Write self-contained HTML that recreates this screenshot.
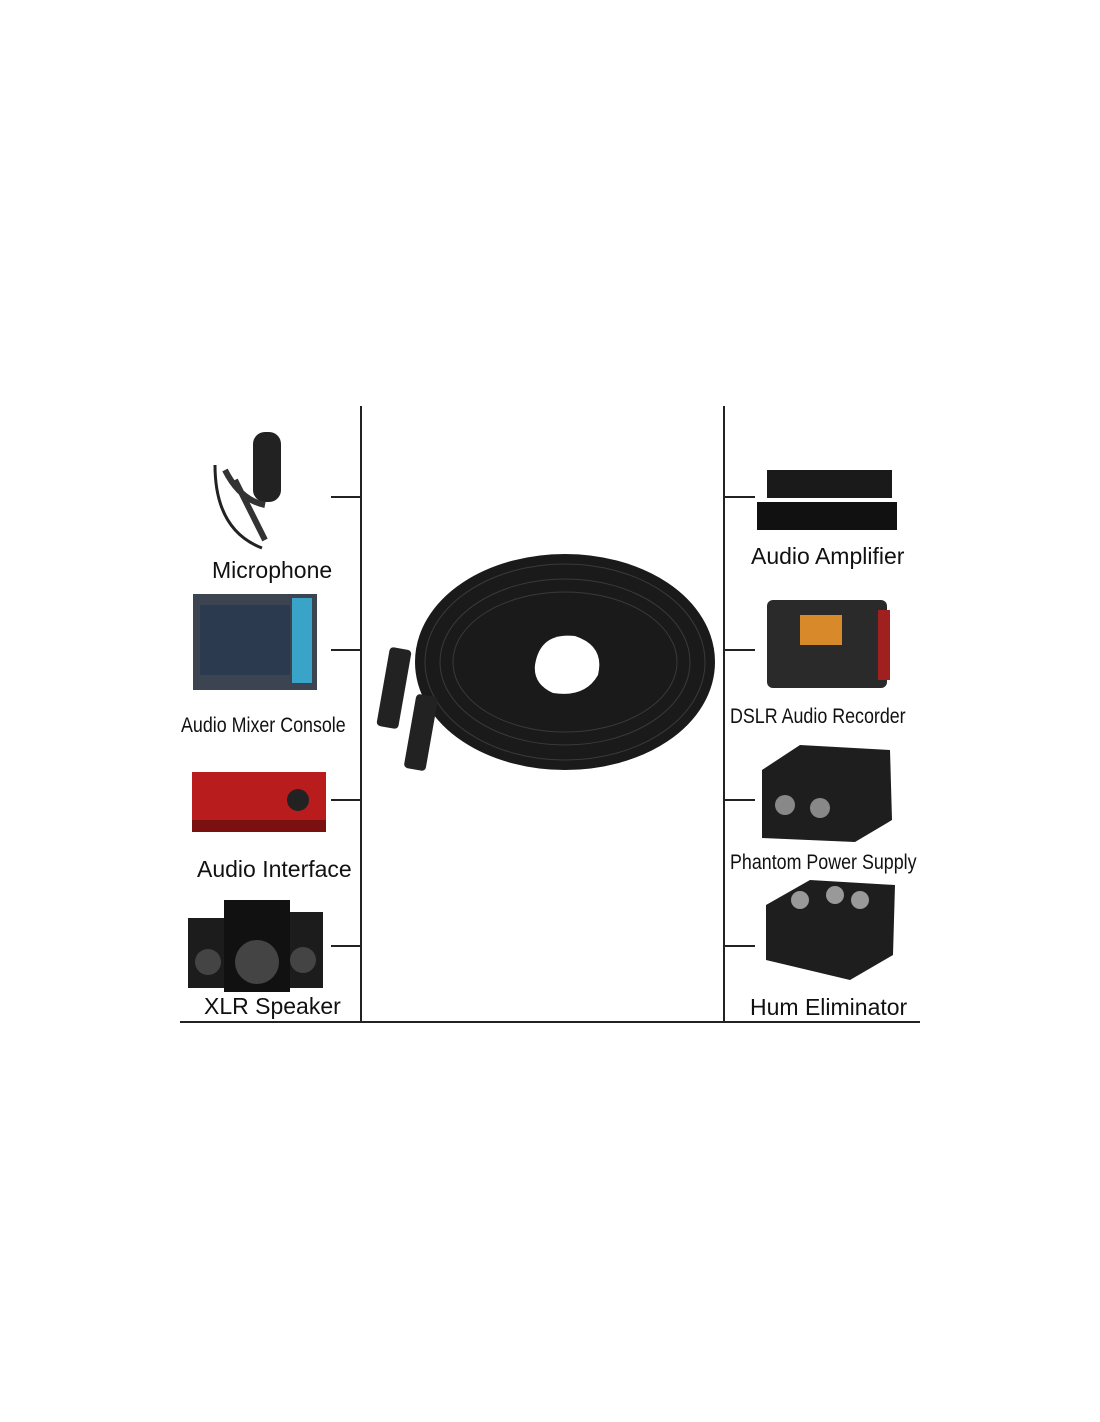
<!DOCTYPE html>
<html><head><meta charset="utf-8"><style>
html,body{margin:0;padding:0;background:#fff;}
body{width:1100px;height:1422px;position:relative;overflow:hidden;font-family:"Liberation Sans",sans-serif;}
.l{position:absolute;background:#222;}
.t{position:absolute;font-size:23px;color:#111;white-space:nowrap;}
.c{font-size:21px;transform:scaleX(0.85);transform-origin:left top;}
</style></head><body>
<div class="l" style="left:360px;top:406px;width:2px;height:617px"></div>
<div class="l" style="left:723px;top:406px;width:2px;height:617px"></div>
<div class="l" style="left:180px;top:1021px;width:740px;height:2px"></div>
<div class="l" style="left:331px;top:496px;width:30px;height:2px"></div>
<div class="l" style="left:331px;top:649px;width:30px;height:2px"></div>
<div class="l" style="left:331px;top:799px;width:30px;height:2px"></div>
<div class="l" style="left:331px;top:945px;width:30px;height:2px"></div>
<div class="l" style="left:724px;top:496px;width:31px;height:2px"></div>
<div class="l" style="left:724px;top:649px;width:31px;height:2px"></div>
<div class="l" style="left:724px;top:799px;width:31px;height:2px"></div>
<div class="l" style="left:724px;top:945px;width:31px;height:2px"></div>

<svg width="1100" height="1422" style="position:absolute;left:0;top:0">
<rect x="253" y="432" width="28" height="70" rx="12" fill="#222"/>
<path d="M225 470 Q240 500 265 505 M235 480 L265 540" stroke="#333" stroke-width="6" fill="none"/>
<path d="M215 465 Q215 530 262 548" stroke="#222" stroke-width="3" fill="none"/>
<rect x="193" y="594" width="124" height="96" fill="#3c4452"/>
<rect x="200" y="605" width="90" height="70" fill="#2b3a4e"/>
<rect x="292" y="598" width="20" height="85" fill="#3aa3c8"/>
<rect x="192" y="772" width="134" height="52" fill="#b81c1c"/>
<rect x="192" y="820" width="134" height="12" fill="#7a1010"/>
<circle cx="298" cy="800" r="11" fill="#222"/>
<rect x="188" y="918" width="40" height="70" fill="#1c1c1c"/>
<rect x="283" y="912" width="40" height="76" fill="#1c1c1c"/>
<rect x="224" y="900" width="66" height="92" fill="#111"/>
<circle cx="257" cy="962" r="22" fill="#444"/>
<circle cx="208" cy="962" r="13" fill="#444"/>
<circle cx="303" cy="960" r="13" fill="#444"/>
<ellipse cx="565" cy="662" rx="125" ry="83" fill="none" stroke="#1a1a1a" stroke-width="50"/>
<g fill="none" stroke="#3a3a3a" stroke-width="1">
<ellipse cx="565" cy="662" rx="140" ry="98"/><ellipse cx="565" cy="662" rx="125" ry="83"/><ellipse cx="565" cy="662" rx="112" ry="70"/>
</g>
<ellipse cx="565" cy="662" rx="102" ry="60" fill="#1a1a1a"/>
<path d="M535 665 Q540 632 575 636 Q605 646 598 675 Q585 698 553 693 Q533 684 535 665Z" fill="#fff"/>
<rect x="383" y="648" width="22" height="80" rx="4" fill="#222" transform="rotate(10 394 688)"/>
<rect x="410" y="695" width="22" height="75" rx="4" fill="#222" transform="rotate(10 421 732)"/>
<rect x="767" y="470" width="125" height="28" fill="#1a1a1a"/>
<rect x="757" y="502" width="140" height="28" fill="#111"/>
<rect x="767" y="600" width="120" height="88" rx="6" fill="#2a2a2a"/>
<rect x="800" y="615" width="42" height="30" fill="#d88a2a"/>
<rect x="878" y="610" width="12" height="70" fill="#a02020"/>
<path d="M762 770 L800 745 L890 750 L892 820 L855 842 L762 838Z" fill="#1e1e1e"/>
<circle cx="785" cy="805" r="10" fill="#888"/><circle cx="820" cy="808" r="10" fill="#888"/>
<path d="M766 905 L810 880 L895 885 L893 955 L850 980 L766 960Z" fill="#1e1e1e"/>
<circle cx="800" cy="900" r="9" fill="#999"/><circle cx="835" cy="895" r="9" fill="#999"/><circle cx="860" cy="900" r="9" fill="#999"/>
</svg>

<div class="t" style="left:212px;top:557px">Microphone</div>
<div class="t c" style="left:181px;top:714px">Audio Mixer Console</div>
<div class="t" style="left:197px;top:856px">Audio Interface</div>
<div class="t" style="left:204px;top:993px">XLR Speaker</div>
<div class="t" style="left:751px;top:543px">Audio Amplifier</div>
<div class="t c" style="left:730px;top:705px">DSLR Audio Recorder</div>
<div class="t c" style="left:730px;top:851px">Phantom Power Supply</div>
<div class="t" style="left:750px;top:994px">Hum Eliminator</div>
</body></html>
